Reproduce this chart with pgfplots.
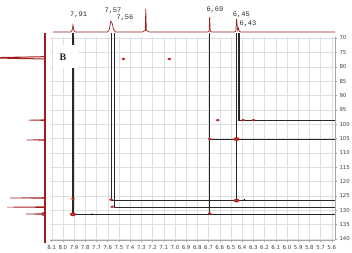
\documentclass[border=0pt]{standalone}
\usepackage{pgfplots}
\pgfplotsset{compat=1.18}
\usepackage{fontspec}
\setmainfont{DejaVu Sans}
\newfontfamily\monofont{Liberation Mono}
\newfontfamily\seriffont{Liberation Serif}
\definecolor{specred}{RGB}{160,30,30}
\definecolor{peakred}{RGB}{195,40,40}
\definecolor{asgn}{RGB}{40,40,40}
\begin{document}
\begin{tikzpicture}[x=1pt,y=1pt]
\useasboundingbox (0,0) rectangle (352,252);
% ---------------- main 2D axis
\begin{axis}[
  at={(50pt,12pt)}, anchor=south west, scale only axis,
  width=285pt, height=203pt,
  xmin=5.571, xmax=8.115, x dir=reverse,
  ymin=69.65, ymax=140.35, y dir=reverse,
  axis x line*=bottom, axis y line*=right,
  axis line style={gray!70, line width=0.4pt},
  clip=false,
  xtick={5.6,5.7,5.8,5.9,6.0,6.1,6.2,6.3,6.4,6.5,6.6,6.7,6.8,6.9,7.0,7.1,7.2,7.3,7.4,7.5,7.6,7.7,7.8,7.9,8.0,8.1},
  ytick={70,75,80,85,90,95,100,105,110,115,120,125,130,135,140},
  grid=major, major grid style={gray!25, line width=0.35pt},
  tick align=outside, major tick length=2pt,
  tick style={gray!70, line width=0.4pt},
  tick label style={font=\fontsize{5.4}{6}\selectfont, text=black!75},
  /pgf/number format/assume math mode=true,
  xticklabel style={/pgf/number format/fixed, /pgf/number format/fixed zerofill, /pgf/number format/precision=1},
  yticklabel style={/pgf/number format/fixed, /pgf/number format/precision=0, xshift=-1pt},
]
% white box behind the panel letter (covers the grid)
\addplot[draw=none, fill=white] coordinates {(8.09,72.4)(7.865,72.4)(7.865,80.45)(8.09,80.45)} -- cycle;
% assignment lines
\addplot[asgn, line width=1.1pt] coordinates {(7.91,68.3)(7.91,72.4)};
\addplot[asgn, line width=1.1pt] coordinates {(7.91,80.45)(7.91,131.4)(5.571,131.4)};
\addplot[asgn, line width=1.1pt] coordinates {(7.57,68.3)(7.57,126.6)(5.571,126.6)};
\addplot[asgn, line width=1.1pt] coordinates {(7.543,68.3)(7.543,128.9)(5.571,128.9)};
\addplot[asgn, line width=1.1pt] coordinates {(6.69,68.3)(6.69,131.4)};
\addplot[asgn, line width=1.1pt] coordinates {(6.69,105.2)(5.571,105.2)};
\addplot[asgn, line width=1.1pt] coordinates {(6.45,68.3)(6.45,126.6)};
\addplot[asgn, line width=1.1pt] coordinates {(6.428,68.3)(6.428,98.6)(5.571,98.6)};
% cross peaks
\addplot[only marks, mark=*, mark size=1.1pt, mark options={fill=peakred, draw=peakred, xscale=1.5}]
 coordinates {(7.46,77.3)(7.05,77.3)(6.618,98.6)(6.39,98.6)(6.30,98.6)(7.91,126.0)(7.57,126.3)(7.56,128.8)(6.69,131.1)(6.69,105.2)};
\addplot[only marks, mark=*, mark size=1.7pt, mark options={fill=peakred, draw=specred, xscale=1.6}]
 coordinates {(7.91,131.4)(6.45,105.2)(6.45,126.6)};
\addplot[only marks, mark=*, mark size=0.6pt, mark options={fill=peakred!70, draw=none}]
 coordinates {(7.74,131.4)(6.38,126.4)};
\node[font=\seriffont\bfseries\fontsize{10}{12}\selectfont, text=black!85] at (axis cs:8.0,76.6) {B};
\end{axis}
% ---------------- top 1D spectrum
\begin{axis}[
  at={(50pt,220pt)}, anchor=south west, scale only axis,
  width=285pt, height=32pt,
  xmin=5.571, xmax=8.115, x dir=reverse,
  ymin=0, ymax=1, hide axis, clip=false,
]
\addplot[specred, line width=0.7pt] coordinates {
 (8.09,0)(7.93,0)(7.917,0.06)(7.91,0.22)(7.903,0.06)(7.89,0)
 (7.60,0)(7.586,0.08)(7.572,0.34)(7.56,0.27)(7.548,0.08)(7.53,0)
 (7.29,0)(7.265,0.05)(7.26,0.72)(7.255,0.05)(7.23,0)
 (6.71,0)(6.695,0.03)(6.69,0.47)(6.685,0.03)(6.67,0)
 (6.47,0)(6.456,0.03)(6.45,0.41)(6.44,0.05)(6.432,0.12)(6.425,0.02)(6.41,0)
 (5.571,0)};
\node[font=\monofont\fontsize{7}{8}\selectfont, text=black!85] at (axis cs:7.86,0.53) {7,91};
\node[font=\monofont\fontsize{7}{8}\selectfont, text=black!85] at (axis cs:7.553,0.67) {7,57};
\node[font=\monofont\fontsize{7}{8}\selectfont, text=black!85] at (axis cs:7.446,0.43) {7,56};
\node[font=\monofont\fontsize{7}{8}\selectfont, text=black!85] at (axis cs:6.643,0.69) {6,69};
\node[font=\monofont\fontsize{7}{8}\selectfont, text=black!85] at (axis cs:6.407,0.53) {6,45};
\node[font=\monofont\fontsize{7}{8}\selectfont, text=black!85] at (axis cs:6.348,0.25) {6,43};
\end{axis}
% ---------------- left 1D spectrum
\begin{axis}[
  at={(0pt,12pt)}, anchor=south west, scale only axis,
  width=45pt, height=203pt,
  xmin=0, xmax=1, x dir=reverse,
  ymin=69.65, ymax=140.35, y dir=reverse,
  hide axis, clip=false,
]
\addplot[specred, line width=1.4pt] coordinates {(0,68.3)(0,141.5)};
\addplot[specred, line width=1.0pt] coordinates {(0,76.5)(1,76.8)(1,77.0)(0,77.3)};
\addplot[specred, line width=0.6pt] coordinates {
 (0,98.45)(0.38,98.6)(0,98.75)
 (0,105.35)(0.40,105.5)(0,105.65)
 (0,125.55)(0.78,125.7)(0,125.85)
 (0,128.75)(0.84,128.9)(0,129.05)
 (0,131.15)(0.42,131.3)(0,131.45)};
\addplot[specred, line width=0.5pt] coordinates {(0,130.6)(0.07,130.9)(0,131.2)(0.08,131.6)(0,132.0)};
\end{axis}
\end{tikzpicture}
\end{document}
